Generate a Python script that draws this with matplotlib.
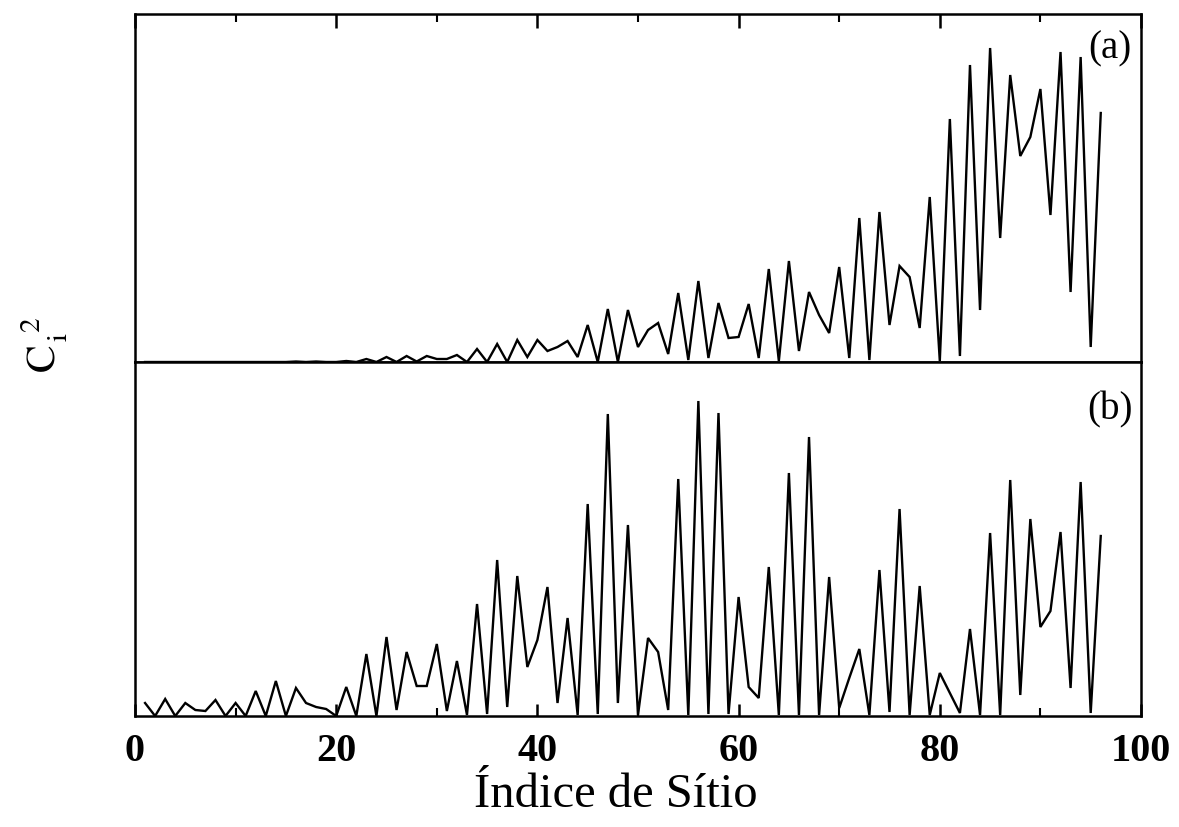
import matplotlib
matplotlib.use("Agg")
import matplotlib.pyplot as plt
import numpy as np

plt.rcParams['font.family'] = ['Liberation Serif', 'DejaVu Serif']
plt.rcParams['mathtext.fontset'] = 'stix'

sites = list(range(1, 97))

prob_a = [0, 0, 0, 0, 0, 0, 0, 0, 0, 0,
          0, 0, 0, 0, 0, 0.5, 0, 0.5, 0, 0,
          1, 0, 3, 0, 5, 0, 6, 0.5, 6, 3,
          3, 7, 0, 13, 0, 18, 0, 22, 5, 22,
          11, 15, 21, 5, 37, 0, 53, 0, 52, 15,
          32, 39, 8, 69, 2, 81, 4, 59, 24, 25,
          58, 4, 93, 1, 101, 11, 70, 47, 29, 95,
          4, 144, 2, 150, 37, 96, 85, 34, 165, 1,
          243, 6, 297, 52, 314, 124, 287, 206, 225, 273,
          147, 310, 70, 305, 15, 249]

prob_b = [13, 0, 17, 0, 13, 6, 5, 16, 0, 13,
          0, 25, 0, 35, 0, 28, 13, 9, 7, 0,
          29, 0, 62, 0, 79, 6, 64, 30, 30, 72,
          5, 55, 1, 112, 2, 156, 9, 140, 49, 76,
          129, 13, 98, 1, 212, 2, 302, 13, 191, 1,
          78, 64, 6, 237, 1, 315, 2, 303, 2, 119,
          29, 18, 149, 1, 243, 1, 279, 1, 139, 8,
          38, 67, 1, 146, 4, 207, 1, 130, 1, 43,
          23, 3, 87, 1, 183, 1, 236, 21, 197, 89,
          105, 184, 28, 234, 3, 180]

xticks = [0, 20, 40, 60, 80, 100]
minor_ticks = [10, 30, 50, 70, 90]
panel_labels = ['(a)', '(b)']

W, H = 1179, 827
fig = plt.figure(figsize=(W / 100, H / 100), dpi=100)
left, right = 135 / W, 1141 / W
top_a, mid, bot_b = 1 - 14 / H, 1 - 362 / H, 1 - 716 / H
ax_a = fig.add_axes([left, mid, right - left, top_a - mid])
ax_b = fig.add_axes([left, bot_b, right - left, mid - bot_b])

for ax, data, lab, ymax, ly in [(ax_a, prob_a, panel_labels[0], 348, 0.90),
                                 (ax_b, prob_b, panel_labels[1], 354, 0.865)]:
    ax.plot(sites, data, color='black', lw=1.7, solid_joinstyle='miter')
    ax.set_xlim(0, 100)
    ax.set_ylim(0, ymax)
    ax.set_yticks([])
    for s in ax.spines.values():
        s.set_linewidth(1.8)
    ax.text(0.969, ly, lab, transform=ax.transAxes, ha='center', va='center',
            fontsize=28)

ax_a.set_xticks(xticks)
ax_a.set_xticks(minor_ticks, minor=True)
ax_a.tick_params(axis='x', which='both', direction='in', bottom=False, top=True,
                 labelbottom=False, labeltop=False)
ax_a.tick_params(axis='x', which='major', length=10, width=1.8)
ax_a.tick_params(axis='x', which='minor', length=6, width=1.5)

ax_b.set_xticks(xticks)
ax_b.set_xticks(minor_ticks, minor=True)
ax_b.set_xticklabels([str(t) for t in xticks], fontsize=29, fontweight='bold')
ax_b.tick_params(axis='x', which='both', direction='in', bottom=True, top=False)
ax_b.tick_params(axis='x', which='major', length=9, width=1.8, pad=12)
ax_b.tick_params(axis='x', which='minor', length=6, width=1.5)

fig.text(616 / W, 1 - 795 / H, 'Índice de Sítio', ha='center',
         va='center', fontsize=35)
fig.text(45 / W, 1 - 345 / H, r'$\mathrm{C}_{\,\mathrm{i}}^{\;\;2}$', ha='center',
         va='center', rotation=90, fontsize=30)

fig.savefig('out.png', dpi=100)
